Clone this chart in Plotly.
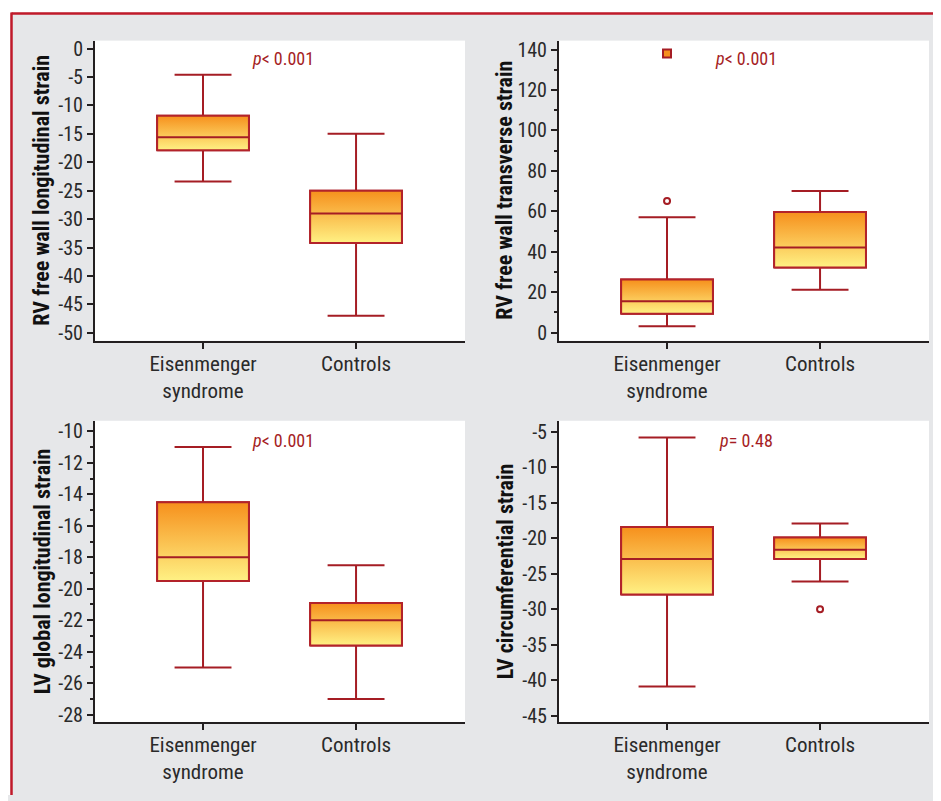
import plotly.graph_objects as go

# ---------------- data ----------------
categories = ["Eisenmenger<br>syndrome", "Controls"]
cat_pos = [0, 1]

titles = ["RV free wall longitudinal strain", "RV free wall transverse strain",
          "LV global longitudinal strain", "LV circumferential strain"]
p_texts = ["<i>p</i>&lt; 0.001", "<i>p</i>&lt; 0.001", "<i>p</i>&lt; 0.001", "<i>p</i>= 0.48"]

# panel 1: RV free wall longitudinal strain
rvl_lower = [-23.4, -47.0]
rvl_q1 = [-17.9, -34.2]
rvl_med = [-15.6, -29.0]
rvl_q3 = [-11.8, -25.0]
rvl_upper = [-4.6, -15.0]

# panel 2: RV free wall transverse strain
rvt_lower = [3.1, 21.2]
rvt_q1 = [9.3, 32.1]
rvt_med = [15.5, 42.0]
rvt_q3 = [26.2, 59.6]
rvt_upper = [57.0, 70.0]
rvt_outlier_x = [0]
rvt_outlier_y = [65.1]
rvt_extreme_x = [0]
rvt_extreme_y = [138.0]

# panel 3: LV global longitudinal strain
lvl_lower = [-25.0, -27.0]
lvl_q1 = [-19.5, -23.6]
lvl_med = [-18.0, -22.0]
lvl_q3 = [-14.5, -20.9]
lvl_upper = [-11.0, -18.5]

# panel 4: LV circumferential strain
lvc_lower = [-40.9, -26.1]
lvc_q1 = [-27.9, -22.9]
lvc_med = [-22.9, -21.6]
lvc_q3 = [-18.4, -19.9]
lvc_upper = [-5.8, -17.9]
lvc_outlier_x = [1]
lvc_outlier_y = [-30.0]

# tick values
rvl_ticks = [0, -5, -10, -15, -20, -25, -30, -35, -40, -45, -50]
rvt_ticks = [0, 20, 40, 60, 80, 100, 120, 140]
lvl_ticks = [-10, -12, -14, -16, -18, -20, -22, -24, -26, -28]
lvc_ticks = [-5, -10, -15, -20, -25, -30, -35, -40, -45]

# ---------------- style ----------------
OFF = 8                      # page body margin
W, H = 941 - OFF, 801 - OFF
DARKRED = "#a51d24"
BOXRED = "#b3232a"
FRAME_RED = "#c01a2a"
AXIS = "#231f20"
GRAY = "#e6e7e9"
TOP_COL = "#f6901c"
BOT_COL = "#fff184"
FONT = "Roboto Condensed, Liberation Sans Narrow, Arial Narrow, sans-serif"
BOX_W = 0.60

def px_x(p):
    return (p - OFF) / W

def px_y(p):
    return 1 - (p - OFF) / H

panels = [
    dict(stats=(rvl_lower, rvl_q1, rvl_med, rvl_q3, rvl_upper), ticks=rvl_ticks,
         yr=[-51.4, 1.4], minor=None, xd=(95, 465), yd=(37, 341)),
    dict(stats=(rvt_lower, rvt_q1, rvt_med, rvt_q3, rvt_upper), ticks=rvt_ticks,
         yr=[-4.1, 144.4], minor=10, xd=(559, 929), yd=(37, 341)),
    dict(stats=(lvl_lower, lvl_q1, lvl_med, lvl_q3, lvl_upper), ticks=lvl_ticks,
         yr=[-28.46, -9.33], minor=1, xd=(95, 465), yd=(422, 727)),
    dict(stats=(lvc_lower, lvc_q1, lvc_med, lvc_q3, lvc_upper), ticks=lvc_ticks,
         yr=[-45.88, -3.43], minor=None, xd=(559, 929), yd=(422, 727)),
]

fig = go.Figure()
annotations = []

for i, pn in enumerate(panels):
    n = "" if i == 0 else str(i + 1)
    xa, ya = "x" + n, "y" + n
    lower, q1, med, q3, upper = pn["stats"]
    # whiskers (box body is redrawn on top)
    fig.add_trace(go.Box(
        x=cat_pos, q1=q1, median=med, q3=q3, lowerfence=lower, upperfence=upper,
        width=BOX_W, whiskerwidth=0.62, boxpoints=False,
        fillcolor="rgba(0,0,0,0)", line=dict(color=DARKRED, width=2),
        xaxis=xa, yaxis=ya, showlegend=False))
    for k, xc in enumerate(cat_pos):
        # gradient-filled box body with outline
        fig.add_trace(go.Scatter(
            x=[xc - BOX_W / 2, xc + BOX_W / 2, xc + BOX_W / 2, xc - BOX_W / 2, xc - BOX_W / 2],
            y=[q1[k], q1[k], q3[k], q3[k], q1[k]],
            fill="toself", mode="lines", line=dict(color=BOXRED, width=2),
            fillgradient=dict(type="vertical", colorscale=[[0, BOT_COL], [1, TOP_COL]]),
            xaxis=xa, yaxis=ya, showlegend=False, hoverinfo="skip"))
        # median line
        fig.add_trace(go.Scatter(
            x=[xc - BOX_W / 2, xc + BOX_W / 2], y=[med[k], med[k]],
            mode="lines", line=dict(color=DARKRED, width=2),
            xaxis=xa, yaxis=ya, showlegend=False, hoverinfo="skip"))

    xdom = [px_x(pn["xd"][0]), px_x(pn["xd"][1])]
    ydom = [px_y(pn["yd"][1]), px_y(pn["yd"][0])]
    xkey = "xaxis" + n
    ykey = "yaxis" + n
    fig.update_layout(**{
        xkey: dict(domain=xdom, range=[-0.706, 1.712], anchor=ya,
                   tickmode="array", tickvals=cat_pos, ticktext=categories,
                   ticks="outside", ticklen=6, tickwidth=2, tickcolor=AXIS,
                   ticklabelstandoff=-3,
                   showline=True, linecolor=AXIS, linewidth=2, showgrid=False,
                   zeroline=False, tickfont=dict(family=FONT, size=21, color="#2a2a2a"),
                   fixedrange=True),
        ykey: dict(domain=ydom, range=pn["yr"], anchor=xa,
                   tickmode="array", tickvals=pn["ticks"],
                   ticktext=[str(t) for t in pn["ticks"]],
                   ticks="outside", ticklen=6, tickwidth=1.5, tickcolor=AXIS,
                   showline=True, linecolor=AXIS, linewidth=2, showgrid=False,
                   zeroline=False, tickfont=dict(family=FONT, size=20, color="#2a2a2a"),
                   fixedrange=True),
    })
    if pn["minor"]:
        fig.update_layout(**{ykey: dict(minor=dict(dtick=pn["minor"], tick0=0, ticks="outside",
                                                   ticklen=3, tickwidth=1.5, tickcolor=AXIS))})
    # axis title
    tx = pn["xd"][0] - 53 if i % 2 == 0 else pn["xd"][0] - 54
    annotations.append(dict(text=titles[i], textangle=-90, xref="paper", yref="paper",
                            x=px_x(tx), y=px_y((pn["yd"][0] + pn["yd"][1]) / 2),
                            xanchor="center", yanchor="middle", showarrow=False,
                            font=dict(family=FONT, size=22, color="#111111", weight="bold")))

# outliers
fig.add_trace(go.Scatter(x=rvt_outlier_x, y=rvt_outlier_y, mode="markers",
                         marker=dict(symbol="circle-open", size=6, color=DARKRED,
                                     line=dict(width=2, color=DARKRED)),
                         xaxis="x2", yaxis="y2", showlegend=False))
fig.add_trace(go.Scatter(x=rvt_extreme_x, y=rvt_extreme_y, mode="markers",
                         marker=dict(symbol="square", size=8, color=TOP_COL,
                                     line=dict(width=2, color=DARKRED)),
                         xaxis="x2", yaxis="y2", showlegend=False))
fig.add_trace(go.Scatter(x=lvc_outlier_x, y=lvc_outlier_y, mode="markers",
                         marker=dict(symbol="circle-open", size=6, color=DARKRED,
                                     line=dict(width=2, color=DARKRED)),
                         xaxis="x4", yaxis="y4", showlegend=False))

# p-values
p_pos = [(250, 55), (713, 55), (250, 441.5), (717, 441.5)]
for t, (px, py) in zip(p_texts, p_pos):
    annotations.append(dict(text=t, xref="paper", yref="paper", x=px_x(px), y=px_y(py),
                            xanchor="left", yanchor="middle", showarrow=False,
                            font=dict(family=FONT, size=18, color=DARKRED)))

shapes = [
    dict(type="rect", xref="paper", yref="paper", x0=px_x(0), x1=px_x(10.5), y0=0, y1=1,
         fillcolor="white", line=dict(width=0), layer="above"),
    dict(type="rect", xref="paper", yref="paper", x0=px_x(0), x1=1, y0=px_y(8.5), y1=px_y(0),
         fillcolor="white", line=dict(width=0), layer="above"),
    dict(type="line", xref="paper", yref="paper", x0=px_x(11.5), x1=1, y0=px_y(9.5), y1=px_y(9.5),
         line=dict(color=FRAME_RED, width=2.5), layer="above"),
    dict(type="line", xref="paper", yref="paper", x0=px_x(11.5), x1=px_x(11.5), y0=0, y1=px_y(8.5),
         line=dict(color=FRAME_RED, width=2.5), layer="above"),
]

fig.update_layout(width=W, height=H, margin=dict(l=0, r=0, t=0, b=0),
                  paper_bgcolor=GRAY, plot_bgcolor="white", showlegend=False,
                  annotations=annotations, shapes=shapes, boxmode="overlay")

fig.write_html("out.html")
